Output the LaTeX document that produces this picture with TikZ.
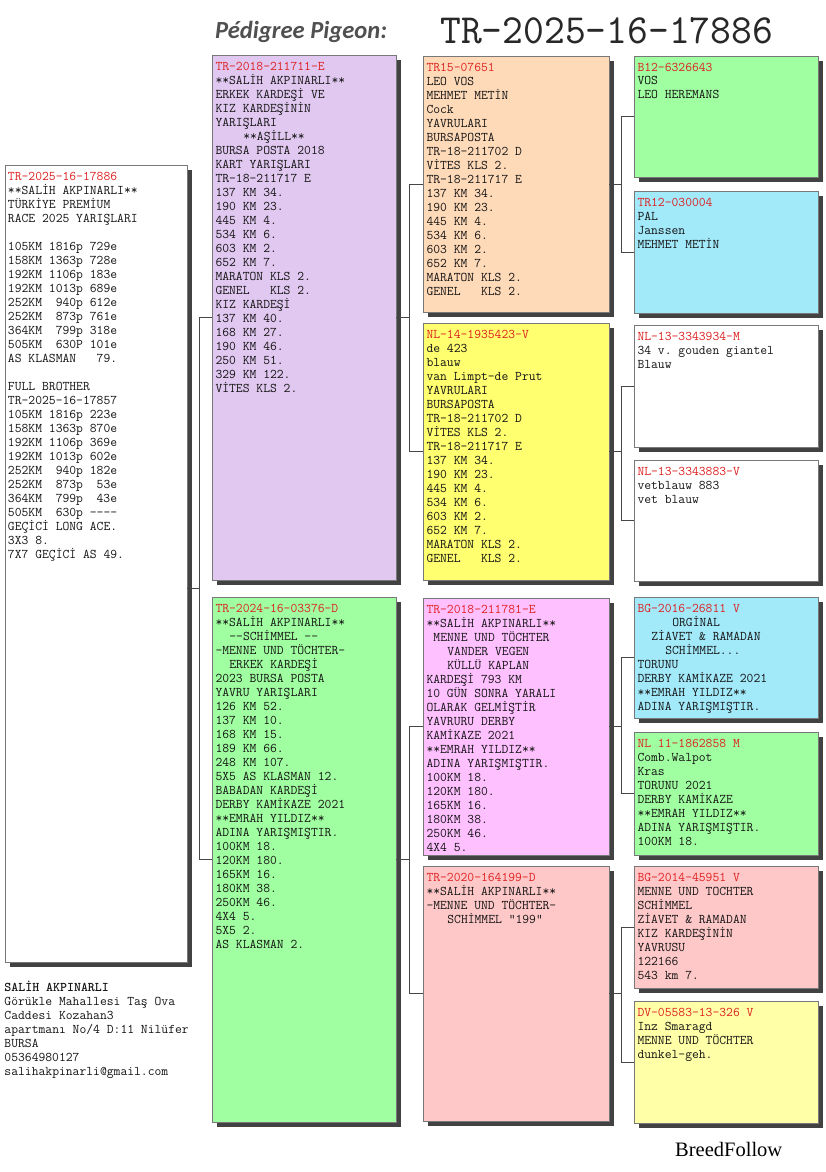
\documentclass[tikz,border=0pt]{standalone}
\usepackage{fontspec}
\usepackage{graphicx}
\usetikzlibrary{shadows}
\newfontfamily\hdrfont{Carlito}
\newfontfamily\brandfont{Liberation Serif}
\definecolor{cpurple}{RGB}{225,200,240}
\definecolor{cpeach}{RGB}{255,218,185}
\definecolor{cgreen}{RGB}{160,255,160}
\definecolor{cblue}{RGB}{162,233,250}
\definecolor{cyellow}{RGB}{255,255,112}
\definecolor{cpink}{RGB}{255,192,255}
\definecolor{csalmon}{RGB}{255,200,200}
\definecolor{clyellow}{RGB}{255,255,168}
\definecolor{lblred}{RGB}{222,32,32}
\definecolor{textc}{RGB}{20,20,20}
\definecolor{boxline}{RGB}{120,120,120}
\definecolor{shadowc}{RGB}{66,66,66}
\definecolor{linec}{RGB}{70,70,70}
\definecolor{hdrgray}{RGB}{80,80,80}
\definecolor{titlec}{RGB}{40,40,40}
\newcommand\lbl[1]{\textcolor{lblred}{#1}}
\newcommand\sk[1]{\hspace*{\dimexpr 0.525em*#1\relax}}
\newcommand\fl{\rule{0pt}{11pt}}
\tikzset{
  box/.style={draw=boxline, line width=0.8pt, anchor=north west, inner sep=0pt, outer sep=0pt,
    drop shadow={shadow xshift=5pt, shadow yshift=-5pt, fill=shadowc, opacity=1}},
  txt/.style={anchor=north west, inner sep=0pt, outer sep=0pt, align=left, text=textc,
    font=\ttfamily\fontsize{13.25}{14}\selectfont\frenchspacing},
  link/.style={draw=linec, line width=0.8pt},
}
\begin{document}
\begin{tikzpicture}[x=1pt,y=-1pt]
\useasboundingbox[fill=white] (0,0) rectangle (825,1172);

% header
\node[anchor=base west, inner sep=0pt, text=hdrgray, font=\hdrfont\bfseries\itshape] (ttl1) at (215,38) {\resizebox{172pt}{!}{Pédigree Pigeon:}};
\node[anchor=base west, inner sep=0pt, text=titlec] (ttl2) at (440,44) {\resizebox{333pt}{26pt}{\ttfamily TR-2025-16-17886}};

% fork point
\coordinate (f1) at (199.5,588.5);

% boxes
\node[box, fill=white, minimum width=182pt, minimum height=797pt] (L) at (5,165) {};
\node[box, fill=cpurple, minimum width=184pt, minimum height=525pt] (P) at (212,55) {};
\node[box, fill=cgreen, minimum width=184pt, minimum height=525pt] (G2) at (212,597) {};
\node[box, fill=cpeach, minimum width=186pt, minimum height=256pt] (O) at (423,56) {};
\node[box, fill=cyellow, minimum width=186pt, minimum height=257pt] (Y) at (423,323) {};
\node[box, fill=cpink, minimum width=186pt, minimum height=257pt] (PK) at (423,598) {};
\node[box, fill=csalmon, minimum width=186pt, minimum height=255pt] (S) at (423,866) {};
\node[box, fill=cgreen, minimum width=184pt, minimum height=121pt] (B12) at (634,56) {};
\node[box, fill=cblue, minimum width=184pt, minimum height=122pt] (TR12) at (634,191) {};
\node[box, fill=white, minimum width=184pt, minimum height=122pt] (N934) at (634,325) {};
\node[box, fill=white, minimum width=184pt, minimum height=121pt] (N883) at (634,460) {};
\node[box, fill=cblue, minimum width=184pt, minimum height=121pt] (BG16) at (634,597) {};
\node[box, fill=cgreen, minimum width=184pt, minimum height=123pt] (NL11) at (634,732) {};
\node[box, fill=csalmon, minimum width=184pt, minimum height=122pt] (BG14) at (634,866) {};
\node[box, fill=clyellow, minimum width=184pt, minimum height=122pt] (DV) at (634,1001) {};

\coordinate (f2a) at ([xshift=13.5pt]P.east);
\coordinate (f2b) at ([xshift=13.5pt]G2.east);
\coordinate (f3a) at ([xshift=12.5pt]O.east);
\coordinate (f3b) at ([xshift=12.5pt]Y.east);
\coordinate (f3c) at ([xshift=12.5pt]PK.east);
\coordinate (f3d) at ([xshift=12.5pt]S.east);

% connectors
\draw[link] (L.east |- f1) -- (f1);
\draw[link] (P.west) -| (f1) |- (G2.west);
\draw[link] (P.east) -- (f2a);
\draw[link] (O.west) -| (f2a) |- (Y.west);
\draw[link] (G2.east) -- (f2b);
\draw[link] (PK.west) -| (f2b) |- (S.west);
\draw[link] (O.east) -- (f3a);
\draw[link] (B12.west) -| (f3a) |- (TR12.west);
\draw[link] (Y.east) -- (f3b);
\draw[link] (N934.west) -| (f3b) |- (N883.west);
\draw[link] (PK.east) -- (f3c);
\draw[link] (BG16.west) -| (f3c) |- (NL11.west);
\draw[link] (S.east) -- (f3d);
\draw[link] (BG14.west) -| (f3d) |- (DV.west);

% texts
\node[txt] (Lt) at ([shift={(3,4)}]L.north west) {\fl\lbl{TR-2025-16-17886}\\
**SALİH AKPINARLI**\\
TÜRKİYE PREMİUM\\
RACE 2025 YARIŞLARI\\
\mbox{}\\
105KM 1816p 729e\\
158KM 1363p 728e\\
192KM 1106p 183e\\
192KM 1013p 689e\\
252KM~~940p 612e\\
252KM~~873p 761e\\
364KM~~799p 318e\\
505KM~~630P 101e\\
AS KLASMAN~~~79.\\
\mbox{}\\
FULL BROTHER\\
TR-2025-16-17857\\
105KM 1816p 223e\\
158KM 1363p 870e\\
192KM 1106p 369e\\
192KM 1013p 602e\\
252KM~~940p 182e\\
252KM~~873p~~53e\\
364KM~~799p~~43e\\
505KM~~630p ----\\
GEÇİCİ LONG ACE.\\
3X3 8.\\
7X7 GEÇİCİ AS 49.};

\node[txt] (Pt) at ([shift={(3.5,4)}]P.north west) {\fl\lbl{TR-2018-211711-E}\\
**SALİH AKPINARLI**\\
ERKEK KARDEŞİ VE\\
KIZ KARDEŞİNİN\\
YARIŞLARI\\
\sk{4}**AŞİLL**\\
BURSA POSTA 2018\\
KART YARIŞLARI\\
TR-18-211717 E\\
137 KM 34.\\
190 KM 23.\\
445 KM 4.\\
534 KM 6.\\
603 KM 2.\\
652 KM 7.\\
MARATON KLS 2.\\
GENEL~~~KLS 2.\\
KIZ KARDEŞİ\\
137 KM 40.\\
168 KM 27.\\
190 KM 46.\\
250 KM 51.\\
329 KM 122.\\
VİTES KLS 2.};

\node[txt] (G2t) at ([shift={(3.5,4)}]G2.north west) {\fl\lbl{TR-2024-16-03376-D}\\
**SALİH AKPINARLI**\\
\sk{2}-{}-SCHİMMEL -{}-\\
-MENNE UND TÖCHTER-\\
\sk{2}ERKEK KARDEŞİ\\
2023 BURSA POSTA\\
YAVRU YARIŞLARI\\
126 KM 52.\\
137 KM 10.\\
168 KM 15.\\
189 KM 66.\\
248 KM 107.\\
5X5 AS KLASMAN 12.\\
BABADAN KARDEŞİ\\
DERBY KAMİKAZE 2021\\
**EMRAH YILDIZ**\\
ADINA YARIŞMIŞTIR.\\
100KM 18.\\
120KM 180.\\
165KM 16.\\
180KM 38.\\
250KM 46.\\
4X4 5.\\
5X5 2.\\
AS KLASMAN 2.};

\node[txt] (Ot) at ([shift={(3.5,4)}]O.north west) {\fl\lbl{TR15-07651}\\
LEO VOS\\
MEHMET METİN\\
Cock\\
YAVRULARI\\
BURSAPOSTA\\
TR-18-211702 D\\
VİTES KLS 2.\\
TR-18-211717 E\\
137 KM 34.\\
190 KM 23.\\
445 KM 4.\\
534 KM 6.\\
603 KM 2.\\
652 KM 7.\\
MARATON KLS 2.\\
GENEL~~~KLS 2.};

\node[txt] (Yt) at ([shift={(3.5,4)}]Y.north west) {\fl\lbl{NL-14-1935423-V}\\
de 423\\
blauw\\
van Limpt-de Prut\\
YAVRULARI\\
BURSAPOSTA\\
TR-18-211702 D\\
VİTES KLS 2.\\
TR-18-211717 E\\
137 KM 34.\\
190 KM 23.\\
445 KM 4.\\
534 KM 6.\\
603 KM 2.\\
652 KM 7.\\
MARATON KLS 2.\\
GENEL~~~KLS 2.};

\node[txt] (PKt) at ([shift={(3.5,4)}]PK.north west) {\fl\lbl{TR-2018-211781-E}\\
**SALİH AKPINARLI**\\
\sk{1}MENNE UND TÖCHTER\\
\sk{3}VANDER VEGEN\\
\sk{3}KÜLLÜ KAPLAN\\
KARDEŞİ 793 KM\\
10 GÜN SONRA YARALI\\
OLARAK GELMİŞTİR\\
YAVRURU DERBY\\
KAMİKAZE 2021\\
**EMRAH YILDIZ**\\
ADINA YARIŞMIŞTIR.\\
100KM 18.\\
120KM 180.\\
165KM 16.\\
180KM 38.\\
250KM 46.\\
4X4 5.};

\node[txt] (St) at ([shift={(3.5,4)}]S.north west) {\fl\lbl{TR-2020-164199-D}\\
**SALİH AKPINARLI**\\
-MENNE UND TÖCHTER-\\
\sk{3}SCHİMMEL "199"};

\node[txt] (B12t) at ([shift={(3.5,4)}]B12.north west) {\fl\lbl{B12-6326643}\\
VOS\\
LEO HEREMANS};

\node[txt] (TR12t) at ([shift={(3.5,4)}]TR12.north west) {\fl\lbl{TR12-030004}\\
PAL\\
Janssen\\
MEHMET METİN};

\node[txt] (N934t) at ([shift={(3.5,4)}]N934.north west) {\fl\lbl{NL-13-3343934-M}\\
34 v. gouden giantel\\
Blauw};

\node[txt] (N883t) at ([shift={(3.5,4)}]N883.north west) {\fl\lbl{NL-13-3343883-V}\\
vetblauw 883\\
vet blauw};

\node[txt] (BG16t) at ([shift={(3.5,4)}]BG16.north west) {\fl\lbl{BG-2016-26811 V}\\
\sk{5}ORGİNAL\\
\sk{2}ZİAVET \& RAMADAN\\
\sk{4}SCHİMMEL...\\
TORUNU\\
DERBY KAMİKAZE 2021\\
**EMRAH YILDIZ**\\
ADINA YARIŞMIŞTIR.};

\node[txt] (NL11t) at ([shift={(3.5,4)}]NL11.north west) {\fl\lbl{NL 11-1862858 M}\\
Comb.Walpot\\
Kras\\
TORUNU 2021\\
DERBY KAMİKAZE\\
**EMRAH YILDIZ**\\
ADINA YARIŞMIŞTIR.\\
100KM 18.};

\node[txt] (BG14t) at ([shift={(3.5,4)}]BG14.north west) {\fl\lbl{BG-2014-45951 V}\\
MENNE UND TOCHTER\\
SCHİMMEL\\
ZİAVET \& RAMADAN\\
KIZ KARDEŞİNİN\\
YAVRUSU\\
122166\\
543 km 7.};

\node[txt] (DVt) at ([shift={(3.5,4)}]DV.north west) {\fl\lbl{DV-05583-13-326 V}\\
Inz Smaragd\\
MENNE UND TÖCHTER\\
dunkel-geh.};

% footer
\node[txt] (addr) at (4.5,980) {\fl\textbf{SALİH AKPINARLI}\\
Görükle Mahallesi Taş Ova\\
Caddesi Kozahan3\\
apartmanı No/4 D:11 Nilüfer\\
BURSA\\
05364980127\\
salihakpinarli@gmail.com};

\node[anchor=base west, inner sep=0pt, text=black, font=\brandfont\fontsize{20.5}{24}\selectfont] (bf) at (675,1156) {BreedFollow};
\end{tikzpicture}
\end{document}
